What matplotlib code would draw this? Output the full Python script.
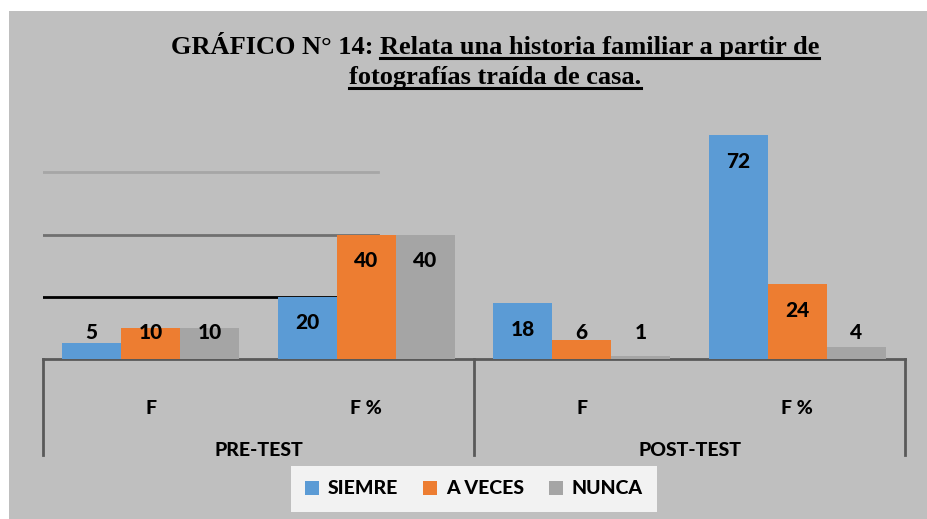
import matplotlib
matplotlib.use("Agg")
import matplotlib.pyplot as plt
import matplotlib.transforms as mtransforms
from matplotlib.lines import Line2D
from matplotlib.patches import Rectangle
import numpy as np

# data
groups = ["PRE-TEST", "POST-TEST"]
measures = ["F", "F %"]
series = ["SIEMRE", "A VECES", "NUNCA"]
siempre = [5, 20, 18, 72]
a_veces = [10, 40, 6, 24]
nunca = [10, 40, 1, 4]
colors = ["#5B9BD5", "#ED7D31", "#A5A5A5"]

# stray partial gridlines visible at the left of the plot
grid_vals = [20, 40, 60]
grid_cols = ["black", "#707070", "#A6A6A6"]

title_a = "GRÁFICO N° 14: "
title_b = "Relata una historia familiar a partir de"
title_c = "fotografías traída de casa."

W, H = 927, 519
fig = plt.figure(figsize=(W / 100, H / 100), dpi=100, facecolor="white")
fig.add_artist(Rectangle((9 / W, 0), 1, 1 - 11 / H, transform=fig.transFigure,
                         facecolor="#BFBFBF", edgecolor="none", zorder=0))

ax = fig.add_axes([43 / W, (H - 359) / H, (905 - 43) / W, 249 / H])
ax.set_facecolor("none")

sans = ["Lato", "DejaVu Sans"]
heavy = 900
x = np.arange(len(siempre))
width = 0.274
for i, (vals, col) in enumerate(zip([siempre, a_veces, nunca], colors)):
    pos = x + (i - 1) * width
    ax.bar(pos, vals, width, color=col, label=series[i], zorder=3)
    for p, v in zip(pos, vals):
        ax.text(p, max(v - 8.4, 8.4), str(v), ha="center", va="center",
                fontsize=15, fontweight=heavy, family=sans, zorder=4)

for v, c in zip(grid_vals, grid_cols):
    ax.axhline(v, xmin=0, xmax=0.389, color=c, lw=2, zorder=1)

ax.set_xlim(-0.5, len(siempre) - 0.5)
ax.set_ylim(0, 80)
ax.set_xticks([])
ax.set_yticks([])
for s in ["top", "left", "right"]:
    ax.spines[s].set_visible(False)
ax.spines["bottom"].set_color("#595959")
ax.spines["bottom"].set_linewidth(2)

# two level category axis
trans = mtransforms.blended_transform_factory(ax.transData, ax.transAxes)
for xs in [-0.5, 1.5, 3.5]:
    ax.plot([xs, xs], [0, -0.386], color="#595959", lw=2, transform=trans,
            clip_on=False)
for i in x:
    ax.text(i, -0.197, measures[i % 2], ha="center", va="center", fontsize=14,
            fontweight=heavy, family=sans, transform=trans)
for g, name in enumerate(groups):
    ax.text(2 * g + 0.5, -0.369, name, ha="center", va="center", fontsize=14,
            fontweight=heavy, family=sans, transform=trans)

leg = ax.legend(loc="center", bbox_to_anchor=(474 / W, 1 - 489 / H),
                bbox_transform=fig.transFigure, ncol=3, frameon=True,
                fancybox=False, facecolor="#F2F2F2", edgecolor="none",
                framealpha=1, handlelength=0.7, handleheight=0.7,
                handletextpad=0.45, columnspacing=1.3, borderpad=0.75,
                prop={"family": sans, "weight": heavy, "size": 14})

# title with underlined part
tkw = dict(fontsize=19, fontweight="bold", family="Liberation Serif",
           va="baseline", ha="left")
renderer = fig.canvas.get_renderer()
ta = fig.text(0, 1 - 54 / H, title_a, **tkw)
tb = fig.text(0, 1 - 54 / H, title_b, **tkw)
tc = fig.text(0, 1 - 84 / H, title_c, **tkw)
wa = ta.get_window_extent(renderer).width
wb = tb.get_window_extent(renderer).width
wc = tc.get_window_extent(renderer).width
cx = 495
x0 = cx - (wa + wb) / 2
ta.set_x(x0 / W)
tb.set_x((x0 + wa) / W)
tc.set_x((cx - wc / 2) / W)
for t, yline in [(tb, 58), (tc, 88)]:
    bb = t.get_window_extent(renderer)
    fig.add_artist(Line2D([bb.x0 / W, bb.x1 / W], [1 - yline / H] * 2,
                          color="black", lw=2.2, transform=fig.transFigure))

fig.savefig("out.png", dpi=100)
